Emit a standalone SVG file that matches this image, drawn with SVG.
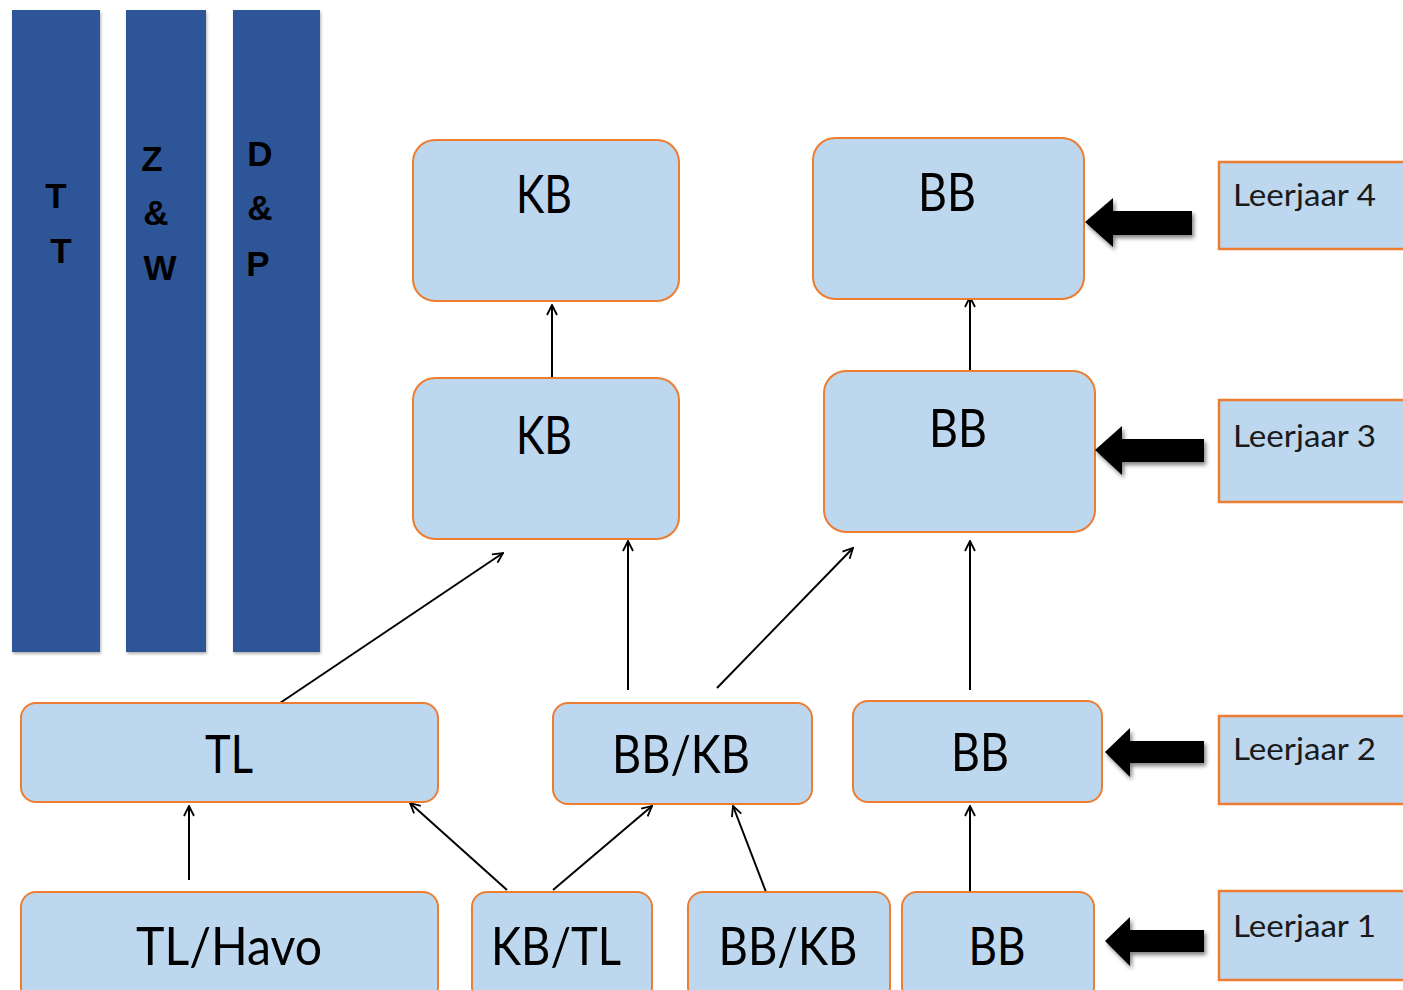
<svg xmlns="http://www.w3.org/2000/svg" width="1403" height="990" viewBox="0 0 1403 990">
<style>
.col{fill:#2F5597;}
.ct{font-family:"Liberation Sans",Arial,sans-serif;font-weight:bold;font-size:35px;fill:#000;text-anchor:middle;}
.node{fill:#BDD7EE;stroke:#ED7D31;stroke-width:2;}
.nt{font-family:Lato,"Open Sans",sans-serif;font-size:52px;fill:#000;text-anchor:middle;}
.lj{fill:#BDD7EE;stroke:#ED7D31;stroke-width:2.5;}
.lt{font-family:Lato,"Open Sans",sans-serif;font-size:30px;fill:#1a1a1a;}
.con{stroke:#000;stroke-width:2;fill:none;marker-end:url(#open);}
.blk{fill:#000;filter:url(#sh);}
</style>
<defs>
<marker id="open" viewBox="0 0 12 12" refX="11" refY="6" markerWidth="12" markerHeight="12" markerUnits="userSpaceOnUse" orient="auto">
<path d="M1,1 L11,6 L1,11" fill="none" stroke="#000" stroke-width="1.8"/>
</marker>
<filter id="sh" x="-20%" y="-20%" width="150%" height="150%">
<feGaussianBlur in="SourceAlpha" stdDeviation="2"/>
<feOffset dx="2" dy="3" result="b"/>
<feComponentTransfer><feFuncA type="linear" slope="0.5"/></feComponentTransfer>
<feMerge><feMergeNode/><feMergeNode in="SourceGraphic"/></feMerge>
</filter>
<filter id="cs" x="-10%" y="-5%" width="130%" height="110%">
<feGaussianBlur in="SourceAlpha" stdDeviation="1.5"/>
<feOffset dx="1" dy="2"/>
<feComponentTransfer><feFuncA type="linear" slope="0.3"/></feComponentTransfer>
<feMerge><feMergeNode/><feMergeNode in="SourceGraphic"/></feMerge>
</filter>
</defs>
<rect width="1403" height="990" fill="#fff"/>

<g id="col-tt">
<rect class="col" x="12" y="10" width="88" height="642" filter="url(#cs)"/>
<text class="ct" x="56" y="208">T</text>
<text class="ct" x="61" y="263">T</text>
</g>
<g id="col-zw">
<rect class="col" x="126" y="10" width="80" height="642" filter="url(#cs)"/>
<text class="ct" x="152" y="171">Z</text>
<text class="ct" x="156" y="225">&amp;</text>
<text class="ct" x="160" y="280">W</text>
</g>
<g id="col-dp">
<rect class="col" x="233" y="10" width="87" height="642" filter="url(#cs)"/>
<text class="ct" x="260" y="166">D</text>
<text class="ct" x="260" y="220">&amp;</text>
<text class="ct" x="258" y="276">P</text>
</g>

<g id="connectors">
<line class="con" x1="552" y1="378" x2="552" y2="305"/>
<line class="con" x1="970" y1="370" x2="970" y2="297"/>
<line class="con" x1="280" y1="703" x2="503" y2="553"/>
<line class="con" x1="628" y1="690" x2="628" y2="541"/>
<line class="con" x1="717" y1="688" x2="853" y2="548"/>
<line class="con" x1="970" y1="690" x2="970" y2="541"/>
<line class="con" x1="189" y1="880" x2="189" y2="806"/>
<line class="con" x1="507" y1="890" x2="410" y2="803"/>
<line class="con" x1="553" y1="890" x2="652" y2="806"/>
<line class="con" x1="766" y1="892" x2="733" y2="806"/>
<line class="con" x1="970" y1="892" x2="970" y2="806"/>
</g>

<g id="kb4"><rect class="node" x="413" y="140" width="266" height="161" rx="22"/><text class="nt" x="544" y="213" textLength="56" lengthAdjust="spacingAndGlyphs">KB</text></g>
<g id="bb4"><rect class="node" x="813" y="138" width="271" height="161" rx="22"/><text class="nt" x="947" y="211" textLength="58" lengthAdjust="spacingAndGlyphs">BB</text></g>
<g id="kb3"><rect class="node" x="413" y="378" width="266" height="161" rx="22"/><text class="nt" x="544" y="454" textLength="56" lengthAdjust="spacingAndGlyphs">KB</text></g>
<g id="bb3"><rect class="node" x="824" y="371" width="271" height="161" rx="22"/><text class="nt" x="958" y="447" textLength="58" lengthAdjust="spacingAndGlyphs">BB</text></g>
<g id="tl2"><rect class="node" x="21" y="703" width="417" height="99" rx="15"/><text class="nt" x="229" y="773" textLength="48" lengthAdjust="spacingAndGlyphs">TL</text></g>
<g id="bbkb2"><rect class="node" x="553" y="703" width="259" height="101" rx="15"/><text class="nt" x="681" y="773" textLength="138" lengthAdjust="spacingAndGlyphs">BB/KB</text></g>
<g id="bb2"><rect class="node" x="853" y="701" width="249" height="101" rx="15"/><text class="nt" x="980" y="771" textLength="58" lengthAdjust="spacingAndGlyphs">BB</text></g>
<g id="tlhavo1"><rect class="node" x="21" y="892" width="417" height="110" rx="15"/><text class="nt" x="229" y="965" textLength="186" lengthAdjust="spacingAndGlyphs">TL/Havo</text></g>
<g id="kbtl1"><rect class="node" x="472" y="892" width="180" height="110" rx="15"/><text class="nt" x="556" y="965" textLength="130" lengthAdjust="spacingAndGlyphs">KB/TL</text></g>
<g id="bbkb1"><rect class="node" x="688" y="892" width="202" height="110" rx="15"/><text class="nt" x="788" y="965" textLength="139" lengthAdjust="spacingAndGlyphs">BB/KB</text></g>
<g id="bb1"><rect class="node" x="902" y="892" width="192" height="110" rx="15"/><text class="nt" x="997" y="965" textLength="57" lengthAdjust="spacingAndGlyphs">BB</text></g>

<g id="leerjaar4"><rect class="lj" x="1219" y="162" width="200" height="87"/><text class="lt" x="1233" y="206" textLength="143" lengthAdjust="spacingAndGlyphs">Leerjaar 4</text></g>
<g id="leerjaar3"><rect class="lj" x="1219" y="400" width="200" height="102"/><text class="lt" x="1233" y="447" textLength="143" lengthAdjust="spacingAndGlyphs">Leerjaar 3</text></g>
<g id="leerjaar2"><rect class="lj" x="1219" y="716" width="200" height="88"/><text class="lt" x="1233" y="760" textLength="143" lengthAdjust="spacingAndGlyphs">Leerjaar 2</text></g>
<g id="leerjaar1"><rect class="lj" x="1219" y="891" width="200" height="89"/><text class="lt" x="1233" y="937" textLength="143" lengthAdjust="spacingAndGlyphs">Leerjaar 1</text></g>

<g id="block-arrows">
<path class="blk" d="M1085,222 L1113,198 L1113,211 L1192,211 L1192,235 L1113,235 L1113,247 Z"/>
<path class="blk" d="M1095,450 L1122,426 L1122,439 L1204,439 L1204,462 L1122,462 L1122,475 Z"/>
<path class="blk" d="M1105,752 L1130,728 L1130,741 L1204,741 L1204,763 L1130,763 L1130,777 Z"/>
<path class="blk" d="M1105,941 L1130,917 L1130,930 L1204,930 L1204,952 L1130,952 L1130,966 Z"/>
</g>
</svg>
